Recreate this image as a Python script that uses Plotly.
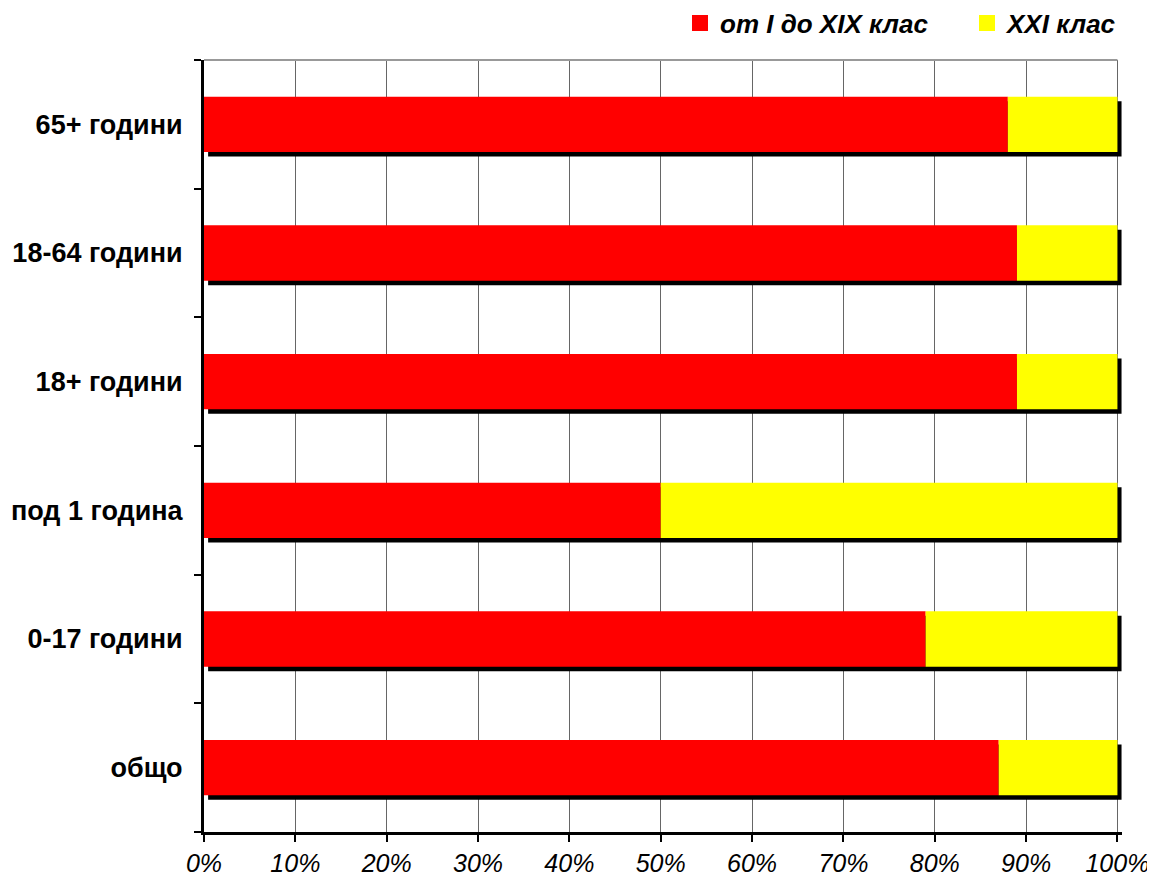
import plotly.graph_objects as go

categories = ["общо", "0-17 години", "под 1 година", "18+ години", "18-64 години", "65+ години"]
red_vals = [87, 79, 50, 89, 89, 88]
yellow_vals = [100 - v for v in red_vals]
totals = [r + y for r, y in zip(red_vals, yellow_vals)]
tick_vals = [0, 10, 20, 30, 40, 50, 60, 70, 80, 90, 100]
tick_text = [f"{v}%" for v in tick_vals]

series_names = ["от I до XIX клас", "XXI клас"]
colors = ["#FF0000", "#FFFF00"]

BW = 0.43
fig = go.Figure()
# shadow
fig.add_trace(go.Bar(y=categories, x=totals, base=[0.45] * len(categories), orientation="h",
                     width=BW, offset=-BW / 2 - 0.035, marker=dict(color="black", line=dict(width=0)),
                     showlegend=False, hoverinfo="skip"))
fig.add_trace(go.Bar(y=categories, x=red_vals, base=[0] * len(categories), orientation="h",
                     width=BW, offset=-BW / 2, name=series_names[0], showlegend=False,
                     marker=dict(color=colors[0], line=dict(width=0))))
fig.add_trace(go.Bar(y=categories, x=yellow_vals, base=red_vals, orientation="h",
                     width=BW, offset=-BW / 2, name=series_names[1], showlegend=False,
                     marker=dict(color=colors[1], line=dict(width=0))))
# legend entries
for name, col in zip(series_names, colors):
    fig.add_trace(go.Scatter(x=[None], y=[None], mode="markers", name=name,
                             marker=dict(symbol="square", size=18, color=col)))

fig.add_shape(type="line", xref="x", yref="paper", x0=0, x1=100, y0=1, y1=1,
              line=dict(color="#999999", width=2))

fig.update_layout(
    width=1147, height=878,
    margin=dict(l=196, r=33, t=52, b=54, autoexpand=False),
    barmode="overlay",
    plot_bgcolor="white", paper_bgcolor="white",
    font=dict(family="Arial, Liberation Sans, sans-serif", color="black"),
    legend=dict(orientation="h", xref="container", yref="container",
                x=672 / 1147, xanchor="left", y=1 - 15 / 878, yanchor="middle",
                font=dict(size=26, weight="bold", style="italic"),
                traceorder="normal", itemwidth=30, entrywidth=242, bgcolor="rgba(0,0,0,0)"),
    xaxis=dict(range=[0, 100.5], tickvals=tick_vals, ticktext=tick_text, automargin=False,
               showgrid=True, gridcolor="#666666", gridwidth=1,
               ticks="outside", ticklen=7, tickwidth=2, tickcolor="black",
               showline=True, linecolor="black", linewidth=3,
               tickfont=dict(size=25, style="italic"), zeroline=False),
    yaxis=dict(categoryorder="array", categoryarray=categories, range=[-0.5, 5.5], automargin=False,
               ticks="outside", ticklen=7, tickwidth=1.5, tickcolor="black",
               tickson="boundaries", showgrid=False,
               showline=True, linecolor="black", linewidth=3,
               tickfont=dict(size=27, weight="bold"), ticklabelstandoff=13),
)
fig.write_html("out.html")
